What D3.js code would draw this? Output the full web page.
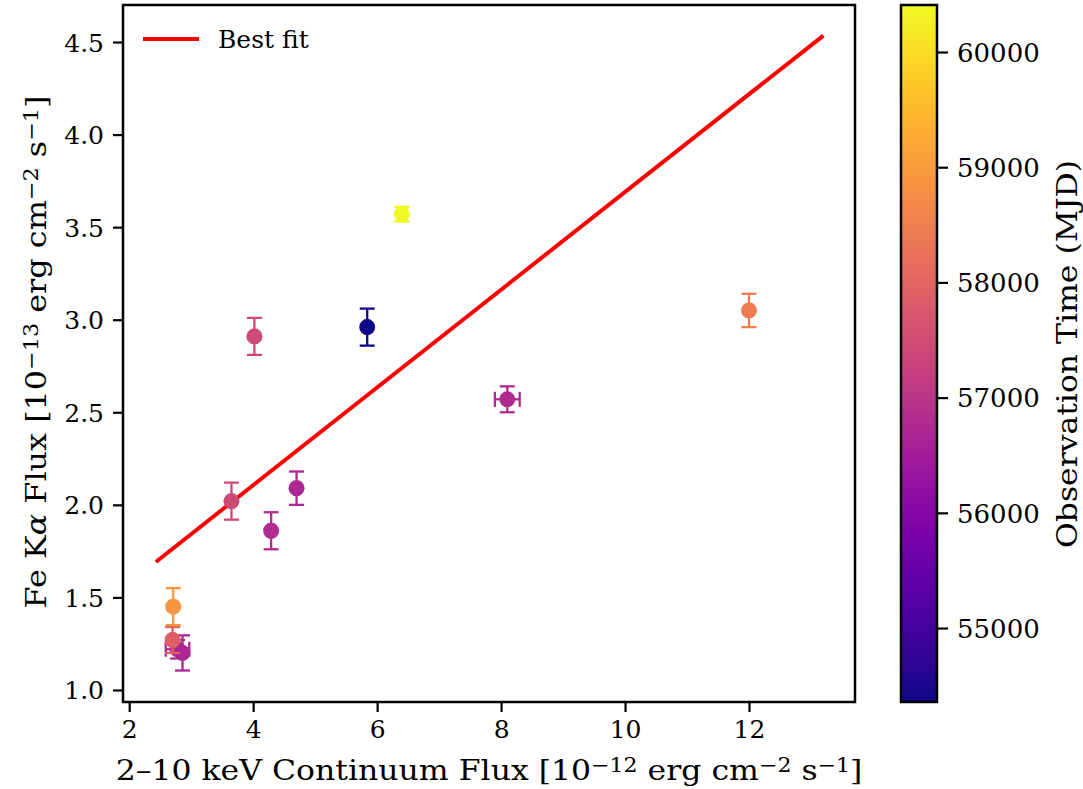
<!DOCTYPE html>
<html>
<head>
<meta charset="utf-8">
<script src="https://cdn.jsdelivr.net/npm/d3@7"></script>
<style>
  html, body { margin: 0; padding: 0; background: #fff; }
  svg { display: block; font-family: "DejaVu Serif", serif; }
</style>
</head>
<body>
<svg id="chart" width="1083" height="789"></svg>
<script>
// Observations: 2–10 keV continuum flux vs Fe Kα line flux, coloured by epoch
const contFlux    = [5.84, 8.10, 4.70, 4.29, 2.78, 2.86, 3.65, 4.02, 2.70, 12.00, 2.71, 6.40];
const contFluxErr = [0.03, 0.20, 0.04, 0.04, 0.19, 0.03, 0.04, 0.04, 0.03, 0.04, 0.03, 0.05];
const feKaFlux    = [2.96, 2.57, 2.09, 1.86, 1.22, 1.20, 2.02, 2.91, 1.27, 3.05, 1.45, 3.57];
const feKaErr     = [0.10, 0.07, 0.09, 0.10, 0.05, 0.095, 0.10, 0.10, 0.07, 0.09, 0.10, 0.04];
const obsMJD      = [54400, 56750, 56700, 56800, 56750, 56700, 57450, 57450, 57900, 58450, 58900, 60400];

// Linear best fit: Fe Kα = slope * continuum + intercept
const fitSlope = 0.2640;
const fitIntercept = 1.050;

const xTicks = [2, 4, 6, 8, 10, 12];
const yTicks = [1.0, 1.5, 2.0, 2.5, 3.0, 3.5, 4.0, 4.5];
const cTicks = [55000, 56000, 57000, 58000, 59000, 60000];

const xDomain = [1.90, 13.71];
const yDomain = [0.935, 4.70];
const cDomain = [54358, 60408];

const svg = d3.select("#chart");
const plot = { left: 123, right: 855, top: 5, bottom: 702 };
const cbar = { left: 901, right: 937 };

const x = d3.scaleLinear().domain(xDomain).range([plot.left, plot.right]);
const y = d3.scaleLinear().domain(yDomain).range([plot.bottom, plot.top]);
const colour = d3.scaleSequential(d3.interpolatePlasma).domain(cDomain);
const cy = d3.scaleLinear().domain(cDomain).range([plot.bottom, plot.top]);

const tickFont = 25, labelFont = 27;

// stretch/compress a text node along its reading direction to a target length
function fitWidth(sel, target, anchorX, anchorY, rotate) {
  const w = sel.node().getBBox().width;
  const s = target / w;
  sel.attr("transform", `translate(${anchorX},${anchorY})` + (rotate ? ` rotate(${rotate})` : "") + ` scale(${s},1.04)`);
}

// ---- axes ----
const xAxis = d3.axisBottom(x).tickValues(xTicks).tickSize(10).tickPadding(7).tickFormat(d3.format("d"));
const yAxis = d3.axisLeft(y).tickValues(yTicks).tickSize(10).tickPadding(9).tickFormat(d3.format(".1f"));

const gx = svg.append("g").attr("transform", `translate(0,${plot.bottom})`).call(xAxis);
const gy = svg.append("g").attr("transform", `translate(${plot.left},0)`).call(yAxis);
[gx, gy].forEach(g => {
  g.select(".domain").remove();
  g.selectAll(".tick line").attr("stroke", "#000").attr("stroke-width", 2.2);
  g.selectAll(".tick text").attr("fill", "#000").style("font-size", tickFont + "px")
    .style("font-family", "'DejaVu Serif', serif");
});
gx.selectAll(".tick text").attr("dy", "0.76em");
gy.selectAll(".tick text").attr("dy", "0.36em");

// ---- best-fit line ----
const fitX = [d3.min(contFlux) * 0.9, d3.max(contFlux) * 1.1];
svg.append("line")
  .attr("x1", x(fitX[0])).attr("y1", y(fitSlope * fitX[0] + fitIntercept))
  .attr("x2", x(fitX[1])).attr("y2", y(fitSlope * fitX[1] + fitIntercept))
  .attr("stroke", "#ff0000").attr("stroke-width", 4);

// ---- error bars and points ----
const pts = contFlux.map((v, i) => ({ x: v, xe: contFluxErr[i], y: feKaFlux[i], ye: feKaErr[i], t: obsMJD[i] }));
const cap = 7.5;
const gp = svg.append("g");
pts.forEach(p => {
  const c = colour(p.t);
  const g = gp.append("g").attr("stroke", c).attr("stroke-width", 2.3).attr("fill", c);
  const px = x(p.x), py = y(p.y);
  const x0 = x(p.x - p.xe), x1 = x(p.x + p.xe), y0 = y(p.y - p.ye), y1 = y(p.y + p.ye);
  g.append("line").attr("x1", x0).attr("x2", x1).attr("y1", py).attr("y2", py);
  g.append("line").attr("x1", px).attr("x2", px).attr("y1", y0).attr("y2", y1);
  [x0, x1].forEach(xx => g.append("line").attr("x1", xx).attr("x2", xx).attr("y1", py - cap).attr("y2", py + cap));
  [y0, y1].forEach(yy => g.append("line").attr("x1", px - cap).attr("x2", px + cap).attr("y1", yy).attr("y2", yy));
  g.append("circle").attr("cx", px).attr("cy", py).attr("r", 8).attr("stroke", "none");
});

// ---- frame ----
svg.append("rect")
  .attr("x", plot.left).attr("y", plot.top)
  .attr("width", plot.right - plot.left).attr("height", plot.bottom - plot.top)
  .attr("fill", "none").attr("stroke", "#000").attr("stroke-width", 2.5);

// ---- legend ----
svg.append("line").attr("x1", 143).attr("x2", 199).attr("y1", 39).attr("y2", 39)
  .attr("stroke", "#ff0000").attr("stroke-width", 4);
svg.append("text").attr("x", 218).attr("y", 48).style("font-size", "25px").attr("fill", "#000").text("Best fit");

// ---- axis labels ----
function sciLabel(sel, parts) {
  parts.forEach(([txt, kind]) => {
    const t = sel.append("tspan").text(txt);
    if (kind === "sup") t.style("font-size", "0.7em").attr("baseline-shift", "42%");
    if (kind === "it") t.style("font-style", "italic");
  });
}
const xl = svg.append("text").attr("text-anchor", "middle").style("font-size", labelFont + "px").attr("fill", "#000");
sciLabel(xl, [["2–10 keV Continuum Flux [10"], ["−12", "sup"], [" erg cm"], ["−2", "sup"], [" s"], ["−1", "sup"], ["]"]]);
fitWidth(xl, 747, 489, 780, 0);

const yl = svg.append("text").attr("text-anchor", "middle").style("font-size", labelFont + "px").attr("fill", "#000");
sciLabel(yl, [["Fe K"], ["α", "it"], [" Flux [10"], ["−13", "sup"], [" erg cm"], ["−2", "sup"], [" s"], ["−1", "sup"], ["]"]]);
fitWidth(yl, 513, 46, 352, -90);

// ---- colour bar ----
const defs = svg.append("defs");
const grad = defs.append("linearGradient").attr("id", "plasmaGrad")
  .attr("x1", 0).attr("y1", 1).attr("x2", 0).attr("y2", 0);
d3.range(0, 1.0001, 0.05).forEach(s => {
  grad.append("stop").attr("offset", s).attr("stop-color", d3.interpolatePlasma(s));
});
svg.append("rect").attr("x", cbar.left).attr("y", plot.top)
  .attr("width", cbar.right - cbar.left).attr("height", plot.bottom - plot.top)
  .attr("fill", "url(#plasmaGrad)").attr("stroke", "#000").attr("stroke-width", 2.5);

const cAxis = d3.axisRight(cy).tickValues(cTicks).tickSize(11).tickPadding(9).tickFormat(d3.format("d"));
const gc = svg.append("g").attr("transform", `translate(${cbar.right},0)`).call(cAxis);
gc.select(".domain").remove();
gc.selectAll(".tick line").attr("stroke", "#000").attr("stroke-width", 2.2);
gc.selectAll(".tick text").attr("fill", "#000").attr("dy", "0.36em").style("font-size", "26px")
  .style("font-family", "'DejaVu Serif', serif");

const cl = svg.append("text").attr("text-anchor", "middle").style("font-size", labelFont + "px").attr("fill", "#000")
  .text("Observation Time (MJD)");
fitWidth(cl, 388, 1077, 354, -90);
</script>
</body>
</html>
